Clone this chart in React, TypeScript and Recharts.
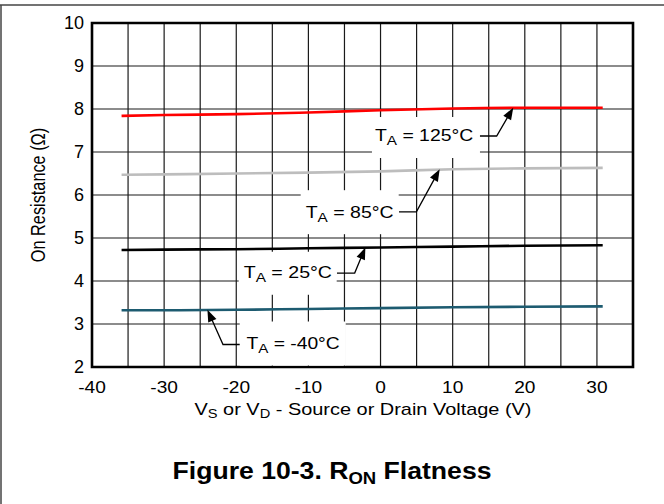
import { LineChart, Line, XAxis, YAxis, CartesianGrid, ReferenceDot, ReferenceArea } from 'recharts';

// source / drain voltage (V)
const voltage = [-35.9, -30, -20, -10, 0, 10, 20, 30.8];
// on resistance (ohm) per ambient temperature
const ron125 = [7.84, 7.86, 7.88, 7.92, 7.97, 8.01, 8.03, 8.03];
const ron85 = [6.47, 6.48, 6.5, 6.52, 6.55, 6.6, 6.62, 6.63];
const ron25 = [4.72, 4.73, 4.74, 4.76, 4.78, 4.8, 4.82, 4.83];
const ronM40 = [3.32, 3.32, 3.33, 3.35, 3.37, 3.39, 3.4, 3.41];

const xTicks = [-40, -35, -30, -25, -20, -15, -10, -5, 0, 5, 10, 15, 20, 25, 30, 35];
const xLabelled = [-40, -30, -20, -10, 0, 10, 20, 30];
const yTicks = [2, 3, 4, 5, 6, 7, 8, 9, 10];

// callouts: temperature label and where the arrow points (data coords)
const calloutTemps = ['125', '85', '25', '-40'];
const calloutTipV = [18.4, 8.2, -2.1, -24];
const calloutTipR = [8.03, 6.6, 4.78, 3.33];

const rows = voltage.map((v, i) => ({
  v,
  t125: ron125[i],
  t85: ron85[i],
  t25: ron25[i],
  tm40: ronM40[i],
}));

const FONT = '"Liberation Sans", Arial, Helvetica, sans-serif';

// pixel offsets from the arrow tip
const calloutLayout = [
  { box: [-141.3, 9.3, 108, 41], text: [-138.3, 33, 98.3], leader: [[-33.3, 28.3], [-16.6, 28.3], [0, 0]] },
  { box: [-139, 21, 98, 44], text: [-134, 48.3, 88], leader: [[-40.7, 42.7], [-23.3, 42.7], [0, 0]] },
  { box: [-126.7, 4.3, 98, 43], text: [-121.7, 30.6, 88.3], leader: [[-28.4, 25.6], [-10.7, 25.6], [0, 0]] },
  { box: [32.3, 11.7, 106, 44], text: [39, 39, 93.3], leader: [[32.3, 34.7], [15.6, 34.7], [0, 0]] },
];

function Callout({ cx, cy, i }: { cx: number; cy: number; i: number }) {
  const lay = calloutLayout[i];
  const [bx, by, bw, bh] = lay.box;
  const [tx, ty, tw] = lay.text;
  const pts = lay.leader.map(([dx, dy]) => [cx + dx, cy + dy]);
  const n = pts.length;
  const [px, py] = pts[n - 2];
  const [ex, ey] = pts[n - 1];
  const len = Math.hypot(ex - px, ey - py);
  const ux = (ex - px) / len;
  const uy = (ey - py) / len;
  const head = 12;
  const half = 4.5;
  const bxh = ex - ux * head;
  const byh = ey - uy * head;
  const linePts = [...pts.slice(0, n - 1), [bxh + ux, byh + uy]].map((p) => p.join(',')).join(' ');
  const tri = `${ex},${ey} ${bxh - uy * half},${byh + ux * half} ${bxh + uy * half},${byh - ux * half}`;
  return (
    <g>
      <rect x={cx + bx} y={cy + by} width={bw} height={bh} fill="#fff" />
      <polyline points={linePts} fill="none" stroke="#000" strokeWidth={1.3} />
      <polygon points={tri} fill="#000" />
      <text
        x={cx + tx}
        y={cy + ty}
        fontSize={16.5}
        fontFamily={FONT}
        fill="#000"
        textLength={tw}
        lengthAdjust="spacingAndGlyphs"
      >
        T<tspan fontSize={13} dy={4}>A</tspan>
        <tspan dy={-4}>{` = ${calloutTemps[i]}°C`}</tspan>
      </text>
    </g>
  );
}

// x tick labels are a little wider than plain Arial in the original
function XTick({ x, y, payload }: any) {
  if (!xLabelled.includes(payload.value)) return null;
  return (
    <text
      transform={`translate(${x},${y}) scale(1.16,1)`}
      x={0}
      y={26.4}
      textAnchor="middle"
      fontSize={16.5}
      fontFamily={FONT}
      fill="#000"
    >
      {payload.value}
    </text>
  );
}

export default function App() {
  return (
    <div style={{ position: 'absolute', left: 0, top: 0, width: 664, height: 504, background: '#fff' }}>
      <LineChart width={664} height={504} data={rows} margin={{ top: 23, right: 31, left: 0, bottom: 0 }}>
        <CartesianGrid stroke="#1a1a1a" strokeWidth={1.2} />
        <XAxis
          dataKey="v"
          type="number"
          domain={[-40, 35]}
          ticks={xTicks}
          interval={0}
          tickLine={false}
          tickSize={0}
          tickMargin={0}
          height={137}
          axisLine={false}
          tick={<XTick />}
        />
        <YAxis
          type="number"
          domain={[2, 10]}
          ticks={yTicks}
          interval={0}
          tickLine={false}
          tickSize={0}
          tickMargin={8}
          width={92}
          axisLine={false}
          tick={{ fill: '#000', fontSize: 18, fontFamily: FONT }}
        />
        <ReferenceArea
          x1={-40}
          x2={35}
          y1={2}
          y2={10}
          fill="none"
          fillOpacity={0}
          stroke="#000"
          strokeWidth={2.6}
          ifOverflow="visible"
        />
        <Line type="monotone" dataKey="t125" stroke="#ff0000" strokeWidth={2.6} dot={false} isAnimationActive={false} />
        <Line type="monotone" dataKey="t85" stroke="#bdbdbd" strokeWidth={2.6} dot={false} isAnimationActive={false} />
        <Line type="monotone" dataKey="t25" stroke="#000000" strokeWidth={2.6} dot={false} isAnimationActive={false} />
        <Line type="monotone" dataKey="tm40" stroke="#1d5b70" strokeWidth={2.6} dot={false} isAnimationActive={false} />
        {calloutTemps.map((t, i) => (
          <ReferenceDot
            key={t}
            x={calloutTipV[i]}
            y={calloutTipR[i]}
            r={0}
            ifOverflow="visible"
            shape={(p: any) => <Callout cx={p.cx} cy={p.cy} i={i} />}
          />
        ))}
      </LineChart>
      <svg width={664} height={504} style={{ position: 'absolute', left: 0, top: 0, pointerEvents: 'none' }}>
        <line x1={0} y1={5} x2={664} y2={5} stroke="#444" strokeWidth={1.5} />
        <line x1={1} y1={5} x2={1} y2={504} stroke="#444" strokeWidth={1.5} />
        <text
          transform="translate(38,195) scale(1.2,1) rotate(-90)"
          x={0}
          y={5.8}
          textAnchor="middle"
          fontSize={16.3}
          fontFamily={FONT}
          fill="#000"
        >
          On Resistance (Ω)
        </text>
        <text
          x={363}
          y={414.5}
          textAnchor="middle"
          fontSize={17}
          fontFamily={FONT}
          fill="#000"
          textLength={337}
          lengthAdjust="spacingAndGlyphs"
        >
          V<tspan fontSize={12.5} dy={3}>S</tspan>
          <tspan dy={-3}> or V</tspan>
          <tspan fontSize={12.5} dy={3}>D</tspan>
          <tspan dy={-3}> - Source or Drain Voltage (V)</tspan>
        </text>
        <text
          x={332}
          y={479}
          textAnchor="middle"
          fontSize={23}
          fontWeight="bold"
          fontFamily={FONT}
          fill="#000"
          textLength={319}
          lengthAdjust="spacingAndGlyphs"
        >
          Figure 10-3. R<tspan fontSize={16} dy={5}>ON</tspan>
          <tspan dy={-5}> Flatness</tspan>
        </text>
      </svg>
    </div>
  );
}
